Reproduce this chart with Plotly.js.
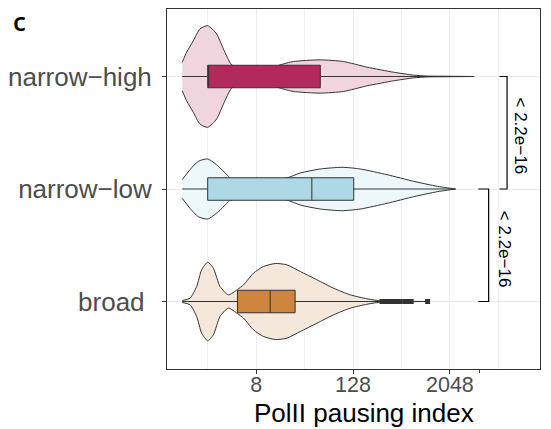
<!DOCTYPE html>
<html>
<head>
<meta charset="utf-8">
<script src="https://cdn.plot.ly/plotly-3.0.1.min.js"></script>
<style>html,body{margin:0;padding:0;background:#fff;}#chart{width:551px;height:429px;}</style>
</head>
<body>
<div id="chart"></div>
<script>
// categories (y positions 0,1,2 from bottom)
const categories = ["broad", "narrow\u2212low", "narrow\u2212high"];
const tickLabelsY = ["broad\u00a0", "narrow\u2212low", "narrow\u2212high"];

// x axis: log2(PolII pausing index)
const xTickVals = [3, 7, 11];
const xTickText = ["8", "128", "2048"];
const xMinorVals = [1, 5, 9, 13];
const xTitle = "PolII pausing index";

// violin density profiles: log2 position and half-width (category units)
const broadViolinX = [-0.05, 0.27, 0.545, 0.75, 1.0, 1.235, 1.51, 1.855, 2.23, 2.48, 2.89, 3.30, 3.79, 4.27, 4.82, 5.51, 6.2, 6.89, 7.58, 8.2, 9.0, 10.06];
const broadViolinW = [0.009, 0.029, 0.133, 0.282, 0.349, 0.296, 0.133, 0.059, 0.107, 0.148, 0.252, 0.311, 0.338, 0.326, 0.267, 0.193, 0.118, 0.059, 0.024, 0.004, 0.002, 0.0];
const lowViolinX = [-0.05, 0.27, 0.61, 1.0, 1.44, 1.79, 1.92, 2.61, 3.44, 4.27, 4.82, 5.65, 6.55, 7.30, 8.41, 9.51, 10.48, 11.23];
const lowViolinW = [0.083, 0.172, 0.246, 0.267, 0.202, 0.127, 0.098, 0.065, 0.06, 0.098, 0.142, 0.178, 0.193, 0.178, 0.127, 0.068, 0.024, 0.0];
const highViolinX = [-0.05, 0.13, 0.41, 0.68, 1.0, 1.37, 1.65, 1.99, 2.47, 3.17, 3.72, 3.99, 4.54, 5.65, 6.61, 7.58, 8.68, 9.51, 10.06, 11.0, 12.0];
const highViolinW = [0.127, 0.216, 0.319, 0.423, 0.452, 0.378, 0.245, 0.103, 0.062, 0.053, 0.08, 0.103, 0.133, 0.148, 0.133, 0.083, 0.038, 0.012, 0.004, 0.002, 0.0];

// box statistics (log2 scale): lower whisker, q1, median, q3, upper whisker
const boxLower  = [-0.05, -0.05, -0.05];
const boxQ1     = [2.23, 1.0, 1.0];
const boxMedian = [3.58, 5.30, 1.0];
const boxQ3     = [4.61, 7.03, 5.65];
const boxUpper  = [8.15, 11.23, 12.0];

// outliers of "broad"
const broadOutliers = [8.2, 8.3, 8.4, 8.5, 8.65, 8.8, 8.95, 9.15, 9.25, 9.4, 10.08];

// p-value labels
const pLabels = ["< 2.2e\u221216", "< 2.2e\u221216"];

const boxColors = ["#CE863F", "#ADD8E6", "#B12A5B"];
const violinFills = ["#F5E7D9", "#EEF7FA", "#F0D5DF"];

const violinX = [broadViolinX, lowViolinX, highViolinX];
const violinW = [broadViolinW, lowViolinW, highViolinW];

const traces = [];
for (let i = 0; i < 3; i++) {
  const xs = violinX[i], ws = violinW[i];
  const px = xs.concat(xs.slice().reverse());
  const py = xs.map((_, k) => i + ws[k]).concat(xs.map((_, k) => i - ws[k]).reverse());
  traces.push({
    type: "scatter", mode: "lines", x: px, y: py, fill: "toself",
    fillcolor: violinFills[i], line: {color: "#333333", width: 1, shape: "spline", smoothing: 0.6},
    hoverinfo: "skip", showlegend: false, xaxis: "x", yaxis: "y"
  });
}
for (let i = 0; i < 3; i++) {
  traces.push({
    type: "box", orientation: "h", y: [i],
    lowerfence: [boxLower[i]], q1: [boxQ1[i]], median: [boxMedian[i]], q3: [boxQ3[i]], upperfence: [boxUpper[i]],
    width: 0.2, whiskerwidth: 0, boxpoints: false,
    fillcolor: boxColors[i], line: {color: "#333333", width: 1},
    showlegend: false, hoverinfo: "skip", xaxis: "x2", yaxis: "y2"
  });
}
traces.push({
  type: "scatter", mode: "markers", x: broadOutliers, y: broadOutliers.map(() => 0),
  marker: {symbol: "square", size: 5, color: "#333333"}, showlegend: false, hoverinfo: "skip",
  xaxis: "x2", yaxis: "y2"
});

const xRange = [-0.68, 14.72];
const yRange = [-0.6, 2.6];

const layout = {
  width: 551, height: 429,
  margin: {l: 167, r: 11, t: 9, b: 60},
  paper_bgcolor: "#ffffff", plot_bgcolor: "#ffffff",
  font: {family: "Liberation Sans, Arial, sans-serif", color: "#4D4D4D"},
  showlegend: false,
  xaxis: {
    range: xRange, tickmode: "array", tickvals: xTickVals, ticktext: xTickText,
    ticks: "outside", ticklen: 4, tickcolor: "#333333", tickwidth: 1,
    tickfont: {size: 21.5, color: "#4D4D4D"}, ticklabelstandoff: -8,
    showgrid: true, gridcolor: "#EBEBEB", gridwidth: 1, zeroline: false,
    minor: {tickmode: "array", tickvals: xMinorVals, showgrid: true, gridcolor: "#EFEFEF", gridwidth: 1, ticks: ""},
    showline: true, linecolor: "#333333", linewidth: 1, mirror: true
  },
  yaxis: {
    range: yRange, tickmode: "array", tickvals: [0, 1, 2], ticktext: tickLabelsY,
    ticks: "outside", ticklen: 4, tickcolor: "#333333", tickwidth: 1,
    tickfont: {size: 26, color: "#4D4D4D"}, ticklabelstandoff: 5,
    showgrid: true, gridcolor: "#EBEBEB", gridwidth: 1, zeroline: false,
    showline: true, linecolor: "#333333", linewidth: 1, mirror: true
  },
  xaxis2: {range: xRange, overlaying: "x", visible: false, showgrid: false, zeroline: false},
  yaxis2: {range: yRange, overlaying: "y", visible: false, showgrid: false, zeroline: false},
  shapes: [
    {type: "path", xref: "x", yref: "y", path: "M 13.05 2 L 13.36 2 L 13.36 1 L 13.05 1", line: {color: "#000000", width: 1.2}, layer: "above"},
    {type: "path", xref: "x", yref: "y", path: "M 12.17 1 L 12.60 1 L 12.60 0 L 12.17 0", line: {color: "#000000", width: 1.2}, layer: "above"},
    {type: "line", xref: "x", yref: "paper", x0: 12.22, x1: 12.22, y0: 0, y1: -4/360, line: {color: "#333333", width: 1}}
  ],
  annotations: [
    {text: pLabels[0], xref: "x", yref: "y", x: 13.92, y: 1.47, textangle: 90, showarrow: false,
     font: {size: 17, color: "#000000"}, xanchor: "center", yanchor: "middle"},
    {text: pLabels[1], xref: "x", yref: "y", x: 13.23, y: 0.46, textangle: 90, showarrow: false,
     font: {size: 17, color: "#000000"}, xanchor: "center", yanchor: "middle"},
    {text: xTitle, xref: "paper", yref: "paper", x: 0.528, y: -0.121, xanchor: "center", yanchor: "middle",
     showarrow: false, font: {size: 26, color: "#000000"}},
    {text: "c", xref: "paper", yref: "paper", x: -0.418, y: 0.9667, xanchor: "left", yanchor: "middle",
     showarrow: false, font: {family: "Open Sans, sans-serif", size: 26, weight: 600, color: "#000000"}}
  ]
};

Plotly.newPlot("chart", traces, layout, {staticPlot: true, displayModeBar: false});
</script>
</body>
</html>
